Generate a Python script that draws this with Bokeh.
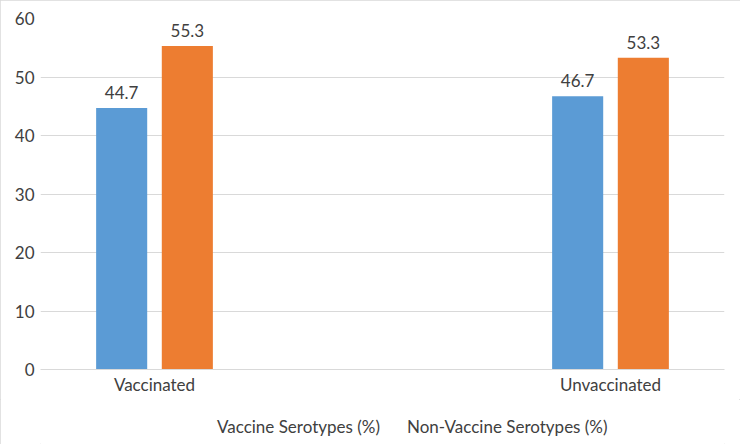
from bokeh.plotting import figure
from bokeh.layouts import column
from bokeh.models import ColumnDataSource, Legend, LegendItem, FixedTicker, Range1d
from bokeh.embed import file_html
from bokeh.resources import INLINE
from bokeh.core.properties import value

categories = ["Vaccinated", "Unvaccinated"]
series_names = ["Vaccine Serotypes (%)", "Non-Vaccine Serotypes (%)"]
vaccine = [44.7, 46.7]
non_vaccine = [55.3, 53.3]
colors = ["#5B9BD5", "#ED7D31"]
y_ticks = [0, 10, 20, 30, 40, 50, 60]

FONT = "Lato"
TXT = "#404040"
xs = list(range(len(categories)))
offset = 0.072
bw = 0.112

p = figure(frame_width=684, frame_height=351, output_backend="svg", toolbar_location=None,
           x_range=Range1d(-0.25, 1.25), y_range=Range1d(0, 60),
           min_border_left=40, min_border_right=16, min_border_top=18,
           min_border_bottom=30)
p.outline_line_color = None
p.background_fill_color = "white"
p.border_fill_color = "white"

for i, (vals, col) in enumerate(zip([vaccine, non_vaccine], colors)):
    sign = -1 if i == 0 else 1
    src = ColumnDataSource(dict(x=[x + sign * offset for x in xs], top=vals,
                                lab=[f"{v:.1f}" for v in vals]))
    p.vbar(x="x", top="top", width=bw, bottom=0, source=src,
           fill_color=col, line_color=None)
    p.text(x="x", y="top", text="lab", source=src, text_align="center",
           text_baseline="bottom", y_offset=-9, text_font=value(FONT),
           text_font_size="17px", text_color=TXT)

for ax in (p.xaxis, p.yaxis):
    ax.major_tick_line_color = None
    ax.minor_tick_line_color = None
    ax.major_tick_out = 0
    ax.major_tick_in = 0
    ax.minor_tick_out = 0
    ax.minor_tick_in = 0
    ax.major_label_text_font = FONT
    ax.major_label_text_font_size = "17px"
    ax.major_label_text_color = TXT

p.xaxis.ticker = FixedTicker(ticks=xs)
p.xaxis.major_label_overrides = {x: c for x, c in zip(xs, categories)}
p.xaxis.axis_line_color = "#d9d9d9"
p.xaxis.major_label_standoff = 4

p.yaxis.ticker = FixedTicker(ticks=y_ticks)
p.yaxis.axis_line_color = None
p.yaxis.major_label_standoff = 6

p.xgrid.grid_line_color = None
p.ygrid.grid_line_color = "#d9d9d9"
p.ygrid.ticker = FixedTicker(ticks=y_ticks)

# Legend strip below the chart
lg = figure(width=740, height=45, output_backend="svg", toolbar_location=None,
            x_range=Range1d(0, 1), y_range=Range1d(0, 1),
            x_axis_type=None, y_axis_type=None,
            min_border_left=0, min_border_right=0, min_border_top=0, min_border_bottom=0)
lg.outline_line_color = None
lg.background_fill_color = "white"
lg.border_fill_color = "white"
dummy = [lg.vbar(x=[], top=[], width=0.1, fill_color=c, line_color=None) for c in colors]

legend = Legend(items=[LegendItem(label=n, renderers=[r]) for n, r in zip(series_names, dummy)],
                orientation="horizontal", location=(164, 7),
                label_text_font=FONT, label_text_font_size="17px",
                label_text_color=TXT, glyph_width=10, glyph_height=10,
                label_standoff=3, spacing=14, padding=0, margin=0,
                label_height=20,
                border_line_color=None, background_fill_alpha=0)
lg.add_layout(legend, "center")

layout = column(p, lg, spacing=0)
layout.styles = {"outline": "1px solid #d9d9d9", "outline-offset": "-1px"}

open("out.html", "w").write(file_html(layout, INLINE))
